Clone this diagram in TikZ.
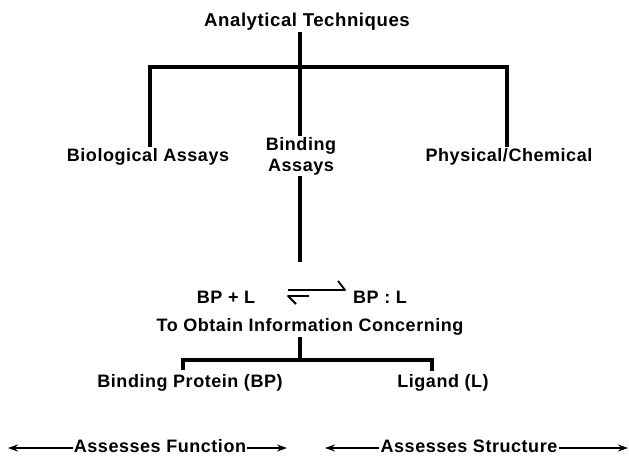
\documentclass[tikz,border=0pt]{standalone}
\usepackage{fontspec}
\setmainfont{Liberation Sans}[LetterSpace=3]
\usetikzlibrary{arrows.meta}

\tikzset{
    lbl/.style={inner sep=1pt, font=\fontsize{18}{21}\selectfont\bfseries},
    tree/.style={line width=3.2pt},
    half/.style={line width=1.8pt, line join=round},
    reach/.style={line width=1.8pt, -{Stealth[length=10pt, width=7pt]}}
}

\begin{document}
\begin{tikzpicture}[x=1pt, y=-1pt]
        \useasboundingbox (0,0) rectangle (629,458);

        % 1. The labels (Nodes)
        % Top
        \node[lbl, font=\fontsize{18.6}{21}\selectfont\bfseries] (title) at (307, 22) {Analytical Techniques};

        % First branching
        \node[lbl] (bio)     at (148, 157) {Biological Assays};
        \node[lbl, align=center] (binding) at (301, 156) {Binding\\Assays};
        \node[lbl] (phys)    at (509, 157) {Physical/Chemical};

        % The equilibrium
        \node[lbl] (free)  at (226, 297) {BP + L};
        \node[lbl] (bound) at (380, 297) {BP : L};
        \node[lbl] (info)  at (310, 327) {To Obtain Information Concerning};

        % Second branching
        \node[lbl] (bp)  at (190, 383) {Binding Protein (BP)};
        \node[lbl] (lig) at (443, 383) {Ligand (L)};

        % Bottom row
        \node[lbl] (func)   at (160, 446) {Assesses Function};
        \node[lbl] (struct) at (469, 446) {Assesses Structure};

        % 2. The joints of the tree
        \coordinate (J1)  at (300, 67);   % top bar, centre
        \coordinate (J1L) at (150, 67);   % top bar, left
        \coordinate (J1R) at (507, 67);   % top bar, right
        \coordinate (J2)  at (300, 360);  % lower bar, centre
        \coordinate (J2L) at (183, 360);  % lower bar, left
        \coordinate (J2R) at (432, 360);  % lower bar, right

        % free ends of the arrows at the bottom
        \coordinate (fL) at (8, 448);
        \coordinate (fR) at (287, 448);
        \coordinate (sL) at (325, 448);
        \coordinate (sR) at (628, 448);

        % 3. Draw the Edges (Lines)
        \draw[tree] (J1 |- title.south) -- (J1);
        \draw[tree] (J1L |- bio.north) -- (J1L) -- (J1R) -- (J1R |- phys.north);
        \draw[tree] (J1) -- (J1 |- binding.north);
        \draw[tree] (J1 |- binding.south) -- (300, 262);
        \draw[tree] (J2 |- info.south) -- (J2);
        \draw[tree] (J2L) ++(0,10) -- (J2L) -- (J2R) -- ++(0,11);

        % The two half arrows between BP + L and BP : L
        \coordinate (eqA) at (288, 290);
        \coordinate (eqB) at (345, 290);
        \draw[half] (eqA) -- (eqB) -- ++(-7,-9);
        \draw[half] (309, 296) -- (288, 296) -- ++(8,8);

        % Reach of each group of methods
        \draw[reach] (func.west |- fL)   -- (fL);
        \draw[reach] (func.east |- fR)   -- (fR);
        \draw[reach] (struct.west |- sL) -- (sL);
        \draw[reach] (struct.east |- sR) -- (sR);

    \end{tikzpicture}
\end{document}
